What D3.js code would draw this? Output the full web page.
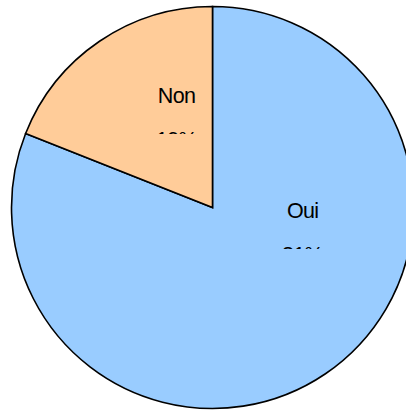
<!DOCTYPE html>
<html>
<head>
<meta charset="utf-8">
<script src="https://cdn.jsdelivr.net/npm/d3@7"></script>
<style>
  html, body { margin: 0; padding: 0; background: #fff; }
  svg { display: block; }
  text { font-family: 'Liberation Sans', Arial, sans-serif; fill: #000; }
</style>
</head>
<body>
<div id="chart"></div>
<script>
const categories = ['Oui', 'Non']
const values = [81, 19]
const pctLabels = ['81%', '19%']
const colors = ['#99ccff', '#ffcc99']

const width = 406
const height = 410
const cx = 212.5
const cy = 207.5
const radius = 201

// label anchors as fractions of the radius (baseline of the category name)
const labelSpots = [
  { dx: 0.448, dy: 0.052 },
  { dx: -0.179, dy: -0.52 }
]

const svg = d3.select('#chart')
  .append('svg')
    .attr('width', width)
    .attr('height', height)

const data = categories.map((c, i) => ({ name: c, value: values[i], pct: pctLabels[i], color: colors[i], spot: labelSpots[i] }))

const pie = d3.pie()
  .sort(null)
  .value(d => d.value)

const arc = d3.arc()
  .innerRadius(0)
  .outerRadius(radius)

const g = svg.append('g')
  .attr('transform', `translate(${cx} ${cy})`)

g.selectAll('.slice')
  .data(pie(data))
  .enter().append('path')
    .attr('class', 'slice')
    .attr('d', arc)
    .attr('fill', d => d.data.color)
    .attr('stroke', '#000')
    .attr('stroke-width', 1.6)
    .attr('stroke-linejoin', 'miter')

// LABELS
const defs = svg.append('defs')

const labels = g.selectAll('.label')
  .data(data)
  .enter().append('g')
    .attr('class', 'label')
    .attr('transform', d => `translate(${d.spot.dx * radius} ${d.spot.dy * radius})`)

labels.append('text')
  .attr('text-anchor', 'middle')
  .attr('font-size', 21.5)
  .attr('letter-spacing', -0.7)
  .text(d => d.name)

// percent text is mostly hidden, only its top strip shows
data.forEach((d, i) => {
  defs.append('clipPath')
    .attr('id', `pct-clip-${i}`)
    .append('rect')
      .attr('x', -40)
      .attr('y', 28.5)
      .attr('width', 80)
      .attr('height', 2.6)
})

labels.append('text')
  .attr('text-anchor', 'middle')
  .attr('font-size', 21.5)
  .attr('letter-spacing', -0.7)
  .attr('y', 44)
  .attr('clip-path', (d, i) => `url(#pct-clip-${i})`)
  .text(d => d.pct)
</script>
</body>
</html>
